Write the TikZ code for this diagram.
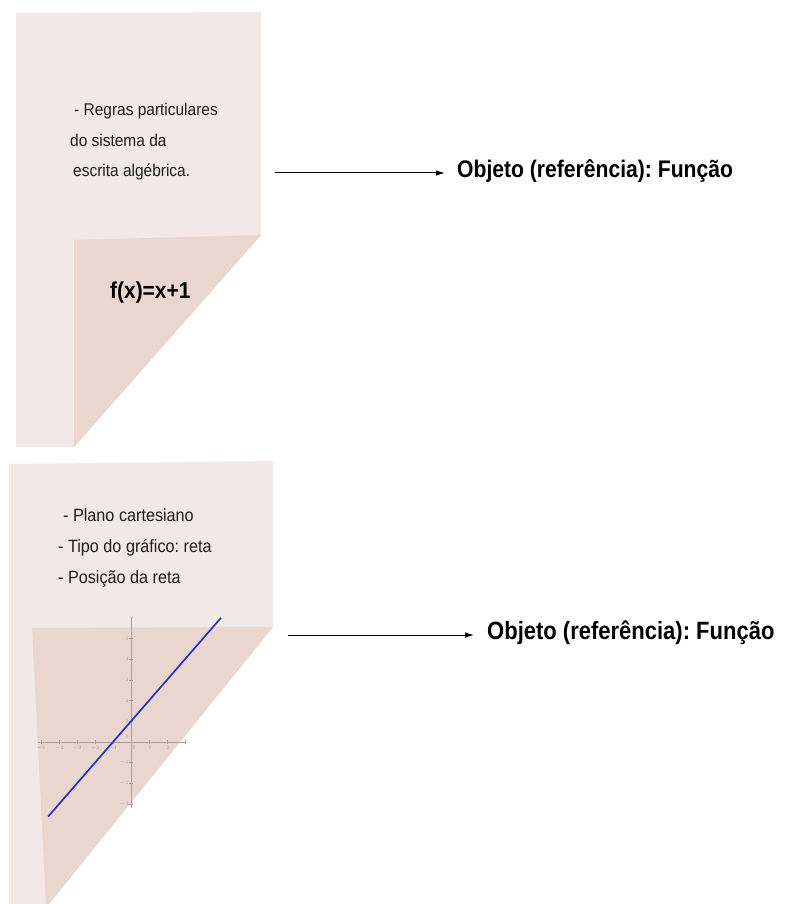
\documentclass[tikz,border=0pt]{standalone}
\usepackage{fontspec}
\setmainfont{Liberation Sans}
\newfontfamily\regcond[FakeStretch=0.91]{Liberation Sans}
\newfontfamily\boldcondA[FakeStretch=0.88]{Liberation Sans}
\newfontfamily\boldcondB[FakeStretch=0.91]{Liberation Sans}
\frenchspacing
\usetikzlibrary{arrows.meta}
\definecolor{pagelight}{HTML}{F2E8E6}
\definecolor{pagedark}{HTML}{E8D6CF}
\definecolor{axisgray}{HTML}{A8A0A0}
\definecolor{lineblue}{HTML}{3030C0}
\definecolor{txtgray}{HTML}{1E1E1E}
\tikzset{
  notetext/.style={anchor=base west, inner sep=0pt, text=txtgray, font=\regcond\fontsize{17}{20}\selectfont},
  notetextb/.style={anchor=base west, inner sep=0pt, text=txtgray, font=\regcond\fontsize{17.8}{20}\selectfont},
  objtext/.style={anchor=base west, inner sep=0pt, text=black},
  conn/.style={line width=1pt, -{Latex[length=9pt,width=5.5pt]}},
  axisline/.style={draw=axisgray, line width=0.6pt},
  ticklbl/.style={inner sep=0pt, text=axisgray, font=\fontsize{5}{5}\selectfont}
}
\begin{document}
\begin{tikzpicture}[x=1pt,y=-1pt]
\useasboundingbox (0,0) rectangle (785,904);
% top page
\fill[pagelight] (16,13) -- (261,12) -- (261,235) -- (74,447) -- (16,447) -- cycle;
\fill[pagedark] (74,240) -- (261,235) -- (74,447) -- cycle;
\node[notetext] (t1) at (74,116) {- Regras particulares};
\node[notetext] (t2) at (70,147) {do sistema da};
\node[notetext] (t3) at (73,177) {escrita algébrica.};
\node[objtext, font=\boldcondB\bfseries\fontsize{23}{25}\selectfont] (fx) at (110,298) {f(x)=x+1};
% top arrow
\node[objtext, font=\boldcondA\bfseries\fontsize{24}{26}\selectfont] (obj1) at (457,178) {Objeto (referência): Função};
\coordinate (a1s) at (275,173);
\draw[conn] (a1s) -- ([xshift=-12pt]obj1.west |- a1s);
% bottom page
\fill[pagelight] (9,464) -- (273,461) -- (273,627) -- (49,904) -- (9,904) -- cycle;
\fill[pagedark] (32,628) -- (273,627) -- (49,904) -- (46,904) -- cycle;
\node[notetextb] (b1) at (63,521) {- Plano cartesiano};
\node[notetextb] (b2) at (58,552) {- Tipo do gráfico: reta};
\node[notetextb] (b3) at (58,583) {- Posição da reta};
% graph
\draw[axisline] (131,617) -- (131,808);
\draw[axisline] (38,742) -- (185,742);
\foreach \k in {-5,...,3} {\draw[axisline] (131+18*\k,740) -- (131+18*\k,744);}
\foreach \k in {-3,...,5} {\draw[axisline] (129,742-20.7*\k) -- (133,742-20.7*\k);}
\foreach \k/\lx in {-5/41,-4/59,-3/77,-2/95,-1/113,1/150,2/168} {\node[ticklbl] at (\lx,748) {$\k$};}
\node[ticklbl] at (134,748) {0};
\node[ticklbl] at (127,737) {0};
\foreach \k in {5,4,3,2,1,-1,-2,-3} {\node[ticklbl, anchor=east] at (129,742-20.7*\k) {$\k$};}
\draw[lineblue, line width=1.7pt] (48.2,816.5) -- (221,617.8);
% bottom arrow
\node[objtext, font=\boldcondA\bfseries\fontsize{25}{27}\selectfont] (obj2) at (487,639) {Objeto (referência): Função};
\coordinate (a2s) at (288,635);
\draw[conn] (a2s) -- ([xshift=-13pt]obj2.west |- a2s);
\end{tikzpicture}
\end{document}
